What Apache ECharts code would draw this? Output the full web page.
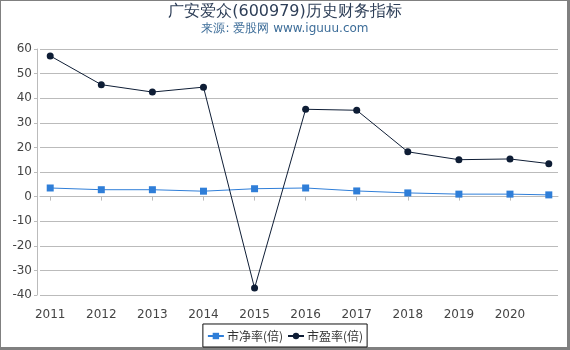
<!DOCTYPE html>
<html>
<head>
<meta charset="utf-8">
<script src="https://cdn.jsdelivr.net/npm/echarts@6/dist/echarts.min.js"></script>
<style>
  html, body { margin: 0; padding: 0; background: #fff; }
  #main { width: 570px; height: 350px; }
</style>
</head>
<body>
<div id="main"></div>
<script>
// 年份（最后一个点约在2020年10月）
var years = [2011, 2012, 2013, 2014, 2015, 2016, 2017, 2018, 2019, 2020, 2020.76];
var yearTicks = [2011, 2012, 2013, 2014, 2015, 2016, 2017, 2018, 2019, 2020];
// 市净率(倍)
var pbValues = [3.5, 2.8, 2.8, 2.2, 3.2, 3.5, 2.3, 1.5, 1.0, 1.0, 0.7];
// 市盈率(倍)
var peValues = [57.2, 45.5, 42.5, 44.5, -37.2, 35.5, 35.1, 18.2, 15.0, 15.3, 13.4];

function pairs(xs, ys) {
  return xs.map(function(x, i) { return [x, ys[i]]; });
}

var myChart = echarts.init(document.getElementById('main'));
var option = {
  animation: false,
  title: {
    text: '广安爱众(600979)历史财务指标',
    subtext: '来源: 爱股网 www.iguuu.com',
    left: 'center',
    top: -1,
    itemGap: 3,
    textStyle: { fontSize: 16, fontWeight: 'normal', color: '#2e3f58', fontFamily: 'DejaVu Sans' },
    subtextStyle: { fontSize: 12, color: '#3d6d99', fontFamily: 'DejaVu Sans' }
  },
  legend: {
    bottom: 3,
    left: 'center',
    borderColor: '#111',
    borderWidth: 1,
    borderRadius: 0,
    padding: [6, 4, 5, 4],
    itemGap: 4,
    itemWidth: 16,
    itemHeight: 8,
    textStyle: { fontSize: 12, color: '#333', fontFamily: 'Noto Sans CJK SC', padding: [0, 0, 0, -2] },
    data: ['市净率(倍)', '市盈率(倍)']
  },
  grid: { left: 40, right: 12, top: 49, bottom: 55, containLabel: false },
  xAxis: {
    type: 'value',
    min: 2010.8,
    max: 2020.94,
    offset: 10,
    splitLine: { show: false },
    axisLine: { lineStyle: { color: '#bbb' } },
    axisTick: { show: true, customValues: yearTicks, length: 4, lineStyle: { color: '#bbb' } },
    axisLabel: {
      customValues: yearTicks,
      color: '#444',
      fontSize: 12,
      fontFamily: 'DejaVu Sans',
      margin: 4,
      formatter: function(v) { return String(Math.round(v)); }
    }
  },
  yAxis: {
    type: 'value',
    min: -40,
    max: 60,
    interval: 10,
    offset: 3,
    axisLine: { show: true, lineStyle: { color: '#bbb' } },
    axisTick: { show: true, length: 3, lineStyle: { color: '#bbb' } },
    axisLabel: { color: '#444', fontSize: 12, fontFamily: 'DejaVu Sans', margin: 5 },
    splitLine: { lineStyle: { color: '#bbb' } }
  },
  graphic: [
    { type: 'rect', shape: { x: 0, y: 0, width: 570, height: 1 }, style: { fill: '#808080' } },
    { type: 'rect', shape: { x: 0, y: 0, width: 1, height: 350 }, style: { fill: '#808080' } },
    { type: 'rect', shape: { x: 567, y: 0, width: 3, height: 350 }, style: { fill: '#808080' } },
    { type: 'rect', shape: { x: 0, y: 347, width: 570, height: 3 }, style: { fill: '#808080' } }
  ],
  series: [
    {
      name: '市净率(倍)',
      type: 'line',
      data: pairs(years, pbValues),
      symbol: 'rect',
      symbolSize: 7,
      color: '#2f7ed8',
      lineStyle: { width: 1 }
    },
    {
      name: '市盈率(倍)',
      type: 'line',
      data: pairs(years, peValues),
      symbol: 'circle',
      symbolSize: 7,
      color: '#0e1d35',
      lineStyle: { width: 1 }
    }
  ]
};
myChart.setOption(option);
</script>
</body>
</html>
